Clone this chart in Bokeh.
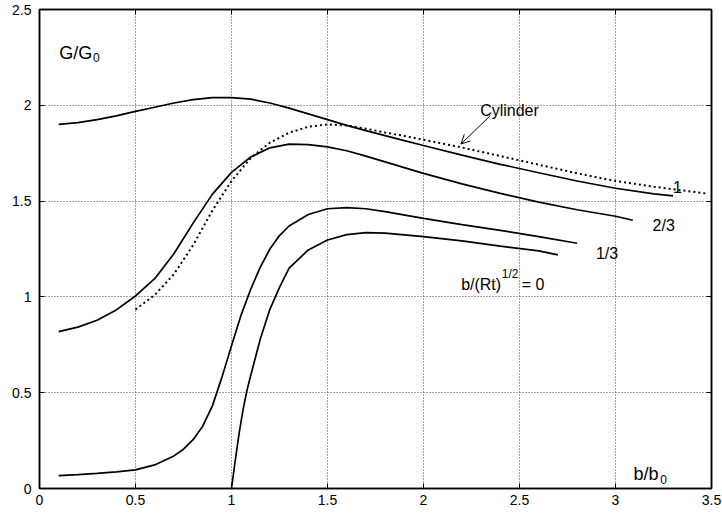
from bokeh.plotting import figure
from bokeh.models import Range1d, LinearAxis, FixedTicker, Arrow, OpenHead, ColumnDataSource
from bokeh.core.properties import value
from bokeh.embed import file_html
from bokeh.resources import INLINE

# ---------------- data ----------------
x_ticks = [0, 0.5, 1, 1.5, 2, 2.5, 3, 3.5]
x_tick_labels = ["0", "0.5", "1", "1.5", "2", "2.5", "3", "3.5"]
y_ticks = [0, 0.5, 1, 1.5, 2, 2.5]
y_tick_labels = ["0", "0.5", "1", "1.5", "2", "2.5"]

# b/(Rt)^1/2 = 1
c1_x = [0.1, 0.2, 0.3, 0.4, 0.5, 0.6, 0.7, 0.8, 0.9, 1.0, 1.1, 1.2, 1.3, 1.4, 1.5, 1.6, 1.7, 1.8, 1.9, 2.0,
        2.2, 2.4, 2.6, 2.8, 3.0, 3.2, 3.3]
c1_y = [1.90, 1.91, 1.925, 1.945, 1.968, 1.99, 2.012, 2.03, 2.04, 2.04, 2.032, 2.012, 1.985, 1.955, 1.925,
        1.895, 1.868, 1.842, 1.816, 1.79, 1.74, 1.692, 1.648, 1.605, 1.567, 1.538, 1.527]

# cylinder (dotted)
cyl_x = [0.5, 0.6, 0.7, 0.8, 0.9, 1.0, 1.1, 1.2, 1.3, 1.4, 1.5, 1.6, 1.7, 1.8, 1.9, 2.0,
         2.2, 2.4, 2.6, 2.8, 3.0, 3.2, 3.47]
cyl_y = [0.934, 1.01, 1.118, 1.27, 1.45, 1.605, 1.725, 1.805, 1.857, 1.888, 1.90, 1.895, 1.878, 1.858, 1.84, 1.82,
         1.78, 1.735, 1.69, 1.645, 1.605, 1.575, 1.54]

# b/(Rt)^1/2 = 2/3
c23_x = [0.1, 0.2, 0.3, 0.4, 0.5, 0.6, 0.7, 0.8, 0.9, 1.0, 1.1, 1.2, 1.3, 1.4, 1.5, 1.6, 1.7, 1.8, 1.9, 2.0,
         2.2, 2.4, 2.6, 2.8, 3.0, 3.09]
c23_y = [0.819, 0.842, 0.878, 0.932, 1.005, 1.095, 1.225, 1.385, 1.535, 1.65, 1.73, 1.778, 1.797, 1.795, 1.783,
         1.763, 1.735, 1.705, 1.675, 1.645, 1.59, 1.54, 1.495, 1.455, 1.421, 1.40]

# b/(Rt)^1/2 = 1/3
c13_x = [0.1, 0.2, 0.3, 0.4, 0.5, 0.6, 0.7, 0.75, 0.8, 0.85, 0.9, 0.95, 1.0, 1.05, 1.1, 1.15, 1.2, 1.25, 1.3,
         1.4, 1.5, 1.6, 1.7, 1.8, 2.0, 2.2, 2.4, 2.6, 2.8]
c13_y = [0.067, 0.072, 0.079, 0.087, 0.097, 0.123, 0.17, 0.205, 0.255, 0.325, 0.43, 0.58, 0.745, 0.905, 1.04,
         1.155, 1.25, 1.32, 1.37, 1.43, 1.46, 1.466, 1.46, 1.445, 1.41, 1.377, 1.347, 1.315, 1.28]

# b/(Rt)^1/2 = 0
c0_x = [1.0, 1.02, 1.04, 1.06, 1.08, 1.1, 1.15, 1.2, 1.25, 1.3, 1.4, 1.5, 1.6, 1.7, 1.8, 2.0, 2.2, 2.4, 2.6, 2.7]
c0_y = [0.0, 0.15, 0.29, 0.41, 0.51, 0.59, 0.78, 0.935, 1.05, 1.15, 1.245, 1.297, 1.325, 1.335, 1.333, 1.315,
        1.292, 1.265, 1.24, 1.219]

# text labels
big_text = ["G/G", "b/b", "Cylinder", "1", "2/3", "1/3", "b/(Rt)", "= 0"]
big_x = [0.103, 3.094, 2.295, 3.299, 3.193, 2.898, 2.196, 2.512]
big_y = [2.275, 0.074, 1.972, 1.574, 1.375, 1.224, 1.064, 1.064]
big_size = ["18px", "18px", "16px", "16px", "16px", "16px", "16px", "16px"]

small_text = ["0", "0", "1/2"]
small_x = [0.278, 3.233, 2.408]
small_y = [2.251, 0.048, 1.121]

arrow_start = (2.347, 1.945)
arrow_end = (2.195, 1.798)

FONT = "Liberation Sans"

p = figure(width=722, height=514,
           x_range=Range1d(0, 3.5), y_range=Range1d(0, 2.5),
           output_backend="svg", toolbar_location=None,
           min_border_left=39, min_border_right=11,
           min_border_top=9, min_border_bottom=26)
p.background_fill_color = "white"
p.border_fill_color = "white"
p.outline_line_color = "black"
p.outline_line_width = 1.5

xt = FixedTicker(ticks=x_ticks)
yt = FixedTicker(ticks=y_ticks)

def style_axis(ax, ticker, labels, show):
    ax.ticker = ticker
    ax.axis_line_color = "black"
    ax.axis_line_width = 1.5
    ax.major_tick_line_color = "black"
    ax.major_tick_line_width = 1
    ax.major_tick_in = 5
    ax.major_tick_out = 0
    ax.minor_tick_line_color = None
    ax.major_label_text_font = FONT
    if show:
        ax.major_label_overrides = {t: l for t, l in zip(ticker.ticks, labels)}
        ax.major_label_text_font_size = "14px"
        ax.major_label_text_color = "black"
    else:
        ax.major_label_text_font_size = "1px"
        ax.major_label_text_color = None
        ax.major_label_standoff = 0

style_axis(p.xaxis[0], xt, x_tick_labels, True)
p.xaxis[0].major_label_standoff = 6
style_axis(p.yaxis[0], yt, y_tick_labels, True)
p.yaxis[0].major_label_standoff = 8

top = LinearAxis()
style_axis(top, xt, x_tick_labels, False)
p.add_layout(top, "above")
right = LinearAxis()
style_axis(right, yt, y_tick_labels, False)
p.add_layout(right, "right")

p.xgrid.ticker = xt
p.ygrid.ticker = yt
for g in (p.xgrid[0], p.ygrid[0]):
    g.grid_line_color = "#444444"
    g.grid_line_dash = "1 2"
    g.grid_line_width = 1

lw = 1.7
p.line(c1_x, c1_y, line_color="black", line_width=lw)
p.line(c23_x, c23_y, line_color="black", line_width=lw)
p.line(c13_x, c13_y, line_color="black", line_width=lw)
p.line(c0_x, c0_y, line_color="black", line_width=lw)
p.line(cyl_x, cyl_y, line_color="black", line_width=2, line_dash="2 3")

src_big = ColumnDataSource(dict(x=big_x, y=big_y, t=big_text, s=big_size))
p.text(x="x", y="y", text="t", source=src_big, text_font=value(FONT),
       text_font_size="s", text_color="black",
       text_align="left", text_baseline="alphabetic")
p.text(x=small_x, y=small_y, text=small_text, text_font=value(FONT),
       text_font_size="12px", text_color="black",
       text_align="left", text_baseline="alphabetic")

p.add_layout(Arrow(end=OpenHead(size=9, line_width=1, line_color="black"),
                   x_start=arrow_start[0], y_start=arrow_start[1],
                   x_end=arrow_end[0], y_end=arrow_end[1],
                   line_color="black", line_width=1))

open("out.html", "w").write(file_html(p, INLINE))
